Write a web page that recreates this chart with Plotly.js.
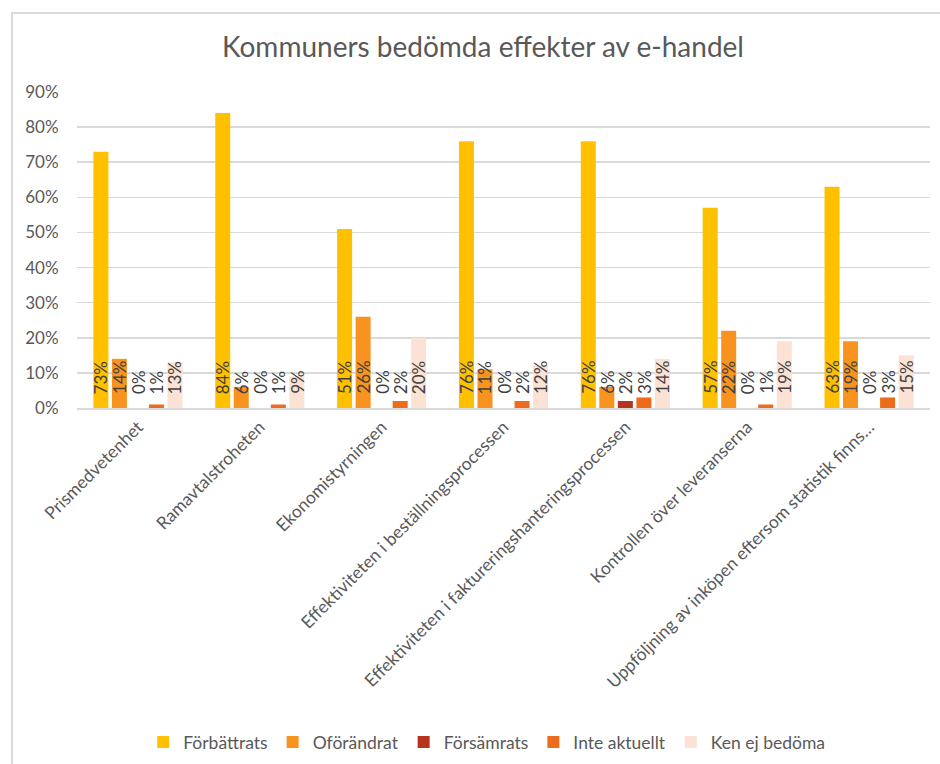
<!DOCTYPE html>
<html>
<head>
<meta charset="utf-8">
<script src="https://cdn.plot.ly/plotly-3.0.1.min.js"></script>
<style>
  html, body { margin: 0; padding: 0; width: 940px; height: 764px; overflow: hidden; background: #fff; }
  #frame { position: absolute; left: 11px; top: 12px; width: 940px; height: 764px;
           border-left: 2px solid #d9d9d9; border-top: 2px solid #d9d9d9; overflow: hidden; }
  #chart { width: 927px; height: 750px; }
</style>
</head>
<body>
<div id="frame"><div id="chart"></div></div>
<script>
const categories = [
  "Prismedvetenhet",
  "Ramavtalstroheten",
  "Ekonomistyrningen",
  "Effektiviteten i beställningsprocessen",
  "Effektiviteten i faktureringshanteringsprocessen",
  "Kontrollen över leveranserna",
  "Uppföljning av inköpen eftersom statistik finns…"
];
const seriesNames = ["Förbättrats", "Oförändrat", "Försämrats", "Inte aktuellt", "Ken ej bedöma"];
const forbattrats  = [0.73, 0.84, 0.51, 0.76, 0.76, 0.57, 0.63];
const oforandrat   = [0.14, 0.06, 0.26, 0.11, 0.06, 0.22, 0.19];
const forsamrats   = [0.00, 0.00, 0.00, 0.00, 0.02, 0.00, 0.00];
const inteAktuellt = [0.01, 0.01, 0.02, 0.02, 0.03, 0.01, 0.03];
const kenEjBedoma  = [0.13, 0.09, 0.20, 0.12, 0.14, 0.19, 0.15];
const seriesColors = ["#FFC000", "#F7931E", "#B5341B", "#EC6C1C", "#FBE2D4"];
const yTickVals = [0, 0.1, 0.2, 0.3, 0.4, 0.5, 0.6, 0.7, 0.8, 0.9];

const allSeries = [forbattrats, oforandrat, forsamrats, inteAktuellt, kenEjBedoma];
const xIdx = categories.map((c, i) => i);

const BARGAP = 0.24, GROUPGAP = 0.19;
const FONT = "Lato, 'Open Sans', sans-serif";
const GREY = "#595959";

const traces = allSeries.map((vals, s) => ({
  type: "bar",
  name: seriesNames[s],
  x: xIdx,
  y: vals,
  marker: { color: seriesColors[s] },
  hoverinfo: "skip"
}));

const slot = (1 - BARGAP) / allSeries.length;
const annotations = [];
allSeries.forEach((vals, s) => {
  vals.forEach((v, j) => {
    annotations.push({
      x: j - (1 - BARGAP) / 2 + slot * (s + 0.5),
      y: 0,
      xref: "x", yref: "y",
      text: Math.round(v * 100) + "%",
      textangle: -90,
      showarrow: false,
      xanchor: "center",
      yanchor: "bottom",
      yshift: 12,
      font: { family: FONT, size: 17, color: "#404040" }
    });
  });
});

const layout = {
  width: 927, height: 750,
  margin: { l: 64, r: 10, t: 78, b: 356 },
  paper_bgcolor: "#ffffff",
  plot_bgcolor: "#ffffff",
  font: { family: FONT, color: GREY },
  title: {
    text: "Kommuners bedömda effekter av e-handel",
    font: { family: FONT, size: 28, color: GREY },
    x: 0.507, xanchor: "center",
    y: 1 - 33 / 750, yanchor: "middle", yref: "container"
  },
  barmode: "group",
  bargap: BARGAP,
  bargroupgap: GROUPGAP,
  showlegend: true,
  legend: {
    orientation: "h",
    x: 0.511, xanchor: "center", xref: "container",
    y: 1 - 728 / 750, yanchor: "middle", yref: "container",
    font: { family: FONT, size: 17.5, color: GREY },
    itemwidth: 30,
    traceorder: "normal"
  },
  xaxis: {
    range: [-0.5, 6.5],
    tickmode: "array",
    tickvals: xIdx,
    ticktext: categories,
    tickangle: -45,
    tickfont: { family: FONT, size: 17.5, color: GREY },
    showgrid: false,
    zeroline: false,
    showline: true,
    linecolor: "#d9d9d9",
    linewidth: 2,
    ticks: "",
    fixedrange: true
  },
  yaxis: {
    range: [0, 0.9],
    tickmode: "array",
    tickvals: yTickVals,
    tickformat: ".0%",
    tickfont: { family: FONT, size: 17, color: GREY },
    showgrid: true,
    gridcolor: "#d9d9d9",
    gridwidth: 1.5,
    zeroline: false,
    showline: false,
    ticks: "outside",
    ticklen: 14,
    tickcolor: "rgba(0,0,0,0)",
    fixedrange: true
  },
  annotations: annotations
};

Plotly.newPlot("chart", traces, layout, { displayModeBar: false, staticPlot: true });
</script>
</body>
</html>
